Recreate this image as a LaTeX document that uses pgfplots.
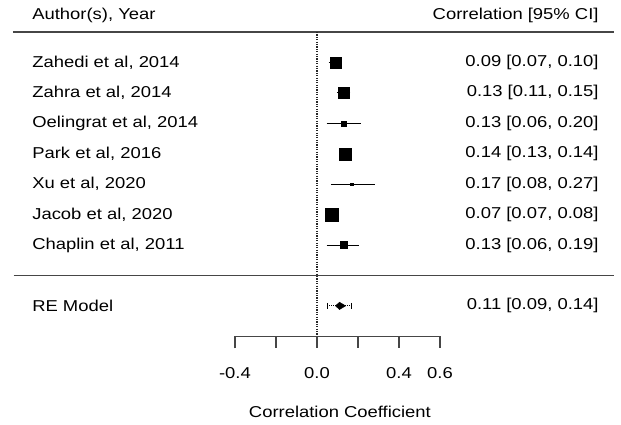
\documentclass[border=0pt]{standalone}
\usepackage{pgfplots}
\pgfplotsset{compat=1.18}
\usepackage{fontspec}
\setmainfont{Liberation Sans}[FakeStretch=1.17]
\definecolor{txt}{RGB}{45,45,45}
\definecolor{ln}{RGB}{70,70,70}
\begin{document}
\fontsize{15.8}{18}\selectfont
\begin{tikzpicture}
\begin{axis}[
  scale only axis, width=621bp, height=424bp,
  xmin=-1.546, xmax=1.483, ymin=-4.884, ymax=9.055,
  axis lines=none, clip=false,
  unbounded coords=jump,
  every node/.append style={text=txt, inner sep=0pt, font=\fontsize{15.8}{18}\selectfont},
]
\path (rel axis cs:0,0) rectangle (rel axis cs:1,1);
% horizontal rules
\addplot[ln, line width=1.6pt] coordinates {(-1.483,8) (1.45,8)};
\addplot[ln, line width=1.6pt] coordinates {(-1.48,0) (1.45,0)};
% zero reference line
\addplot[black!85, line width=1.3pt, dash pattern=on 1.2pt off 1.2pt] coordinates {(0,8) (0,-2)};
% x axis
\addplot[ln, line width=1.3pt] coordinates {(-0.4,-2.4) (-0.4,-2) (0.6,-2) (0.6,-2.4)};
\addplot[ln, line width=1.3pt] coordinates {(-0.2,-2) (-0.2,-2.4) (nan,nan) (0,-2) (0,-2.4) (nan,nan) (0.2,-2) (0.2,-2.4) (nan,nan) (0.4,-2) (0.4,-2.4)};
% studies: estimate with CI
\pgfplotsset{studyci/.style={only marks, mark=square*, black,
   error bars/x dir=both, error bars/x explicit,
   error bars/error bar style={line width=1pt, black},
   error bars/error mark options={mark size=2.6pt, line width=1pt, black}}}
\addplot[studyci, mark size=5.5pt] coordinates {(0.09,7) += (0.01,0) -= (0.02,0)};
\addplot[studyci, mark size=5.5pt] coordinates {(0.13,6) += (0.02,0) -= (0.02,0)};
\addplot[studyci, mark size=2.6pt] coordinates {(0.13,5) += (0.07,0) -= (0.07,0)};
\addplot[studyci, mark size=6pt] coordinates {(0.14,4) += (0.0,0) -= (0.01,0)};
\addplot[studyci, mark size=1.2pt] coordinates {(0.17,3) += (0.10,0) -= (0.09,0)};
\addplot[studyci, mark size=6.5pt] coordinates {(0.07,2) += (0.01,0) -= (0.0,0)};
\addplot[studyci, mark size=3.5pt] coordinates {(0.13,1) += (0.06,0) -= (0.07,0)};
% RE model
\addplot[black, line width=0.9pt, dash pattern=on 1pt off 1pt] coordinates {(0.05,-1) (0.17,-1)};
\addplot[black, line width=0.9pt] coordinates {(0.05,-0.9) (0.05,-1.1) (nan,nan) (0.17,-0.9) (0.17,-1.1)};
\addplot[fill=black, draw=black] coordinates {(0.09,-1) (0.11,-0.88) (0.14,-1) (0.11,-1.12)} -- cycle;
% header
\node[anchor=west] at (axis cs:-1.415,8.55) {Author(s), Year};
\node[anchor=east] at (axis cs:1.40,8.55) {Correlation [95\% CI]};
% labels
\node[anchor=west] at (axis cs:-1.415,7) {Zahedi et al, 2014};
\node[anchor=west] at (axis cs:-1.415,6) {Zahra et al, 2014};
\node[anchor=west] at (axis cs:-1.415,5) {Oelingrat et al, 2014};
\node[anchor=west] at (axis cs:-1.415,4) {Park et al, 2016};
\node[anchor=west] at (axis cs:-1.415,3) {Xu et al, 2020};
\node[anchor=west] at (axis cs:-1.415,2) {Jacob et al, 2020};
\node[anchor=west] at (axis cs:-1.415,1) {Chaplin et al, 2011};
\node[anchor=west] at (axis cs:-1.415,-1) {RE Model};
\node[anchor=east] at (axis cs:1.40,7) {0.09 [0.07, 0.10]};
\node[anchor=east] at (axis cs:1.40,6) {0.13 [0.11, 0.15]};
\node[anchor=east] at (axis cs:1.40,5) {0.13 [0.06, 0.20]};
\node[anchor=east] at (axis cs:1.40,4) {0.14 [0.13, 0.14]};
\node[anchor=east] at (axis cs:1.40,3) {0.17 [0.08, 0.27]};
\node[anchor=east] at (axis cs:1.40,2) {0.07 [0.07, 0.08]};
\node[anchor=east] at (axis cs:1.40,1) {0.13 [0.06, 0.19]};
\node[anchor=east] at (axis cs:1.40,-1) {0.11 [0.09, 0.14]};
% tick labels
\node at (axis cs:-0.4,-3.22) {-0.4};
\node at (axis cs:0,-3.22) {0.0};
\node at (axis cs:0.4,-3.22) {0.4};
\node at (axis cs:0.6,-3.22) {0.6};
\node at (axis cs:0.112,-4.49) {Correlation Coefficient};
\end{axis}
\end{tikzpicture}
\end{document}
